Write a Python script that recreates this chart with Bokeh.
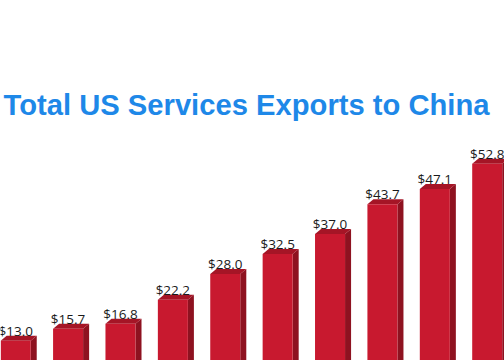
from bokeh.plotting import figure
from bokeh.models import ColumnDataSource, Label, Range1d
from bokeh.embed import file_html
from bokeh.resources import INLINE
from bokeh.core.properties import value

idx = list(range(10))
values = [13.0, 15.7, 16.8, 22.2, 28.0, 32.5, 37.0, 43.7, 47.1, 52.8]
labels = ["$%.1f" % v for v in values]
title_text = "Total US Services Exports to China"

W = 0.573      # front face width (data units)
D = 0.115      # depth offset x
DZ = 1.12      # depth offset y
BOTTOM = 0.0

front_src = ColumnDataSource(dict(x=idx, top=values, lab=labels))

side_xs, side_ys, top_xs, top_ys = [], [], [], []
for i, v in zip(idx, values):
    r = i + W / 2
    l = i - W / 2
    side_xs.append([r, r, r + D, r + D])
    side_ys.append([BOTTOM, v, v + DZ, BOTTOM])
    top_xs.append([l, r, r + D, l + D])
    top_ys.append([v, v, v + DZ, v + DZ])

p = figure(width=504, height=360, output_backend="svg", toolbar_location=None,
           x_range=Range1d(-0.29, 9.33), y_range=Range1d(8.55, 89.5),
           min_border=0, outline_line_color=None)
p.axis.visible = False
p.grid.visible = False
p.background_fill_color = "white"
p.border_fill_color = "white"

p.patches(side_xs, side_ys, fill_color="#8E1220", line_color=None)
p.patches(top_xs, top_ys, fill_color="#A51526", line_color=None)
p.vbar(x="x", top="top", bottom=BOTTOM, width=W, source=front_src,
       fill_color="#C8192F", line_color=None)

p.text(x="x", y="top", text="lab", source=front_src, y_offset=-10,
       text_align="center", text_baseline="alphabetic",
       text_font=value("Open Sans"), text_font_size="13.5px", text_color="#1a1a1a")

p.add_layout(Label(x=3, y=256, x_units="screen", y_units="screen", text=title_text,
                   text_font="Liberation Sans", text_font_style="bold",
                   text_font_size="29.2px", text_color="#1E88E8",
                   text_baseline="alphabetic"))

open("out.html", "w").write(file_html(p, INLINE))
